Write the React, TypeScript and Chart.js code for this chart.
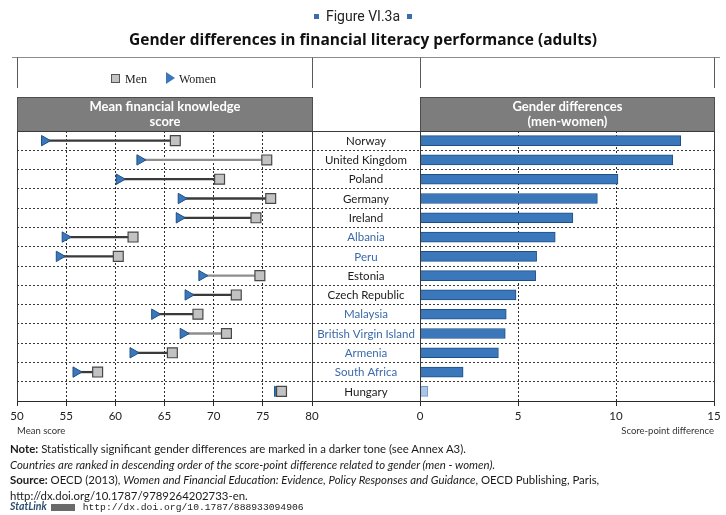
import React, { useEffect, useRef } from 'react';
import { Chart, registerables } from 'chart.js';

Chart.register(...registerables);

// ---------- data ----------
const countries = [
  'Norway', 'United Kingdom', 'Poland', 'Germany', 'Ireland', 'Albania', 'Peru',
  'Estonia', 'Czech Republic', 'Malaysia', 'British Virgin Island', 'Armenia',
  'South Africa', 'Hungary',
];
const partnerEconomy = [false, false, false, false, false, true, true, false, false, true, true, true, true, false];
const menScores = [66.1, 75.4, 70.6, 75.8, 74.3, 61.8, 60.3, 74.7, 72.3, 68.4, 71.3, 65.8, 58.2, 76.9];
const womenScores = [52.8, 62.5, 60.4, 66.7, 66.5, 54.9, 54.3, 68.8, 67.4, 64.0, 66.9, 61.8, 56.0, 76.5];
const genderGap = [13.3, 12.9, 10.1, 9.05, 7.8, 6.9, 5.95, 5.9, 4.9, 4.4, 4.35, 4.0, 2.2, 0.4];
const gapSignificant = [true, true, true, true, true, true, true, true, true, true, true, true, true, false];
const connectorDark = [true, false, true, true, true, true, true, false, true, true, false, true, true, false];
const scoreTicks = [50, 55, 60, 65, 70, 75, 80];
const gapTicks = [0, 5, 10, 15];

const FONT = 'Lato, "Open Sans", sans-serif';
const BLUE = '#3b78bb';
const BLUE_EDGE = '#1f4f85';
const LABEL_BLUE = '#3a6aa8';

const align = (p: number) => Math.round(p - 0.5) + 0.5;

const framePlugin = {
  id: 'panelFrame',
  afterDraw(chart: any) {
    const { ctx, chartArea, scales } = chart;
    const xL = scales.xL;
    const xR = scales.xR;
    const y = scales.y;
    const edges = [xL.left, xL.right, xR.left, xR.right].map(align);
    const top = align(chartArea.top);
    const bottom = align(chartArea.bottom);
    const line = (x1: number, y1: number, x2: number, y2: number) => {
      ctx.beginPath();
      ctx.moveTo(x1, y1);
      ctx.lineTo(x2, y2);
      ctx.stroke();
    };
    ctx.save();
    ctx.lineWidth = 1;
    // upper frame (legend strip)
    ctx.strokeStyle = '#8c8c8c';
    line(12, 57.5, 720, 57.5);
    ctx.strokeStyle = '#5a5a5a';
    edges.forEach((x: number) => line(x, 57.5, x, 88));

    // header boxes
    const headerTop = 97.5;
    const headers = [
      { l: edges[0], r: edges[1], text: ['Mean financial knowledge', 'score'] },
      { l: edges[2], r: edges[3], text: ['Gender differences', '(men-women)'] },
    ];
    headers.forEach((h) => {
      ctx.fillStyle = '#7d7d7d';
      ctx.fillRect(h.l, headerTop, h.r - h.l, top - headerTop);
      ctx.strokeStyle = '#4d4d4d';
      ctx.strokeRect(h.l, headerTop, h.r - h.l, top - headerTop);
      ctx.fillStyle = '#ffffff';
      ctx.font = `bold 13px ${FONT}`;
      ctx.textAlign = 'center';
      ctx.textBaseline = 'middle';
      ctx.fillText(h.text[0], (h.l + h.r) / 2, 106.5);
      ctx.fillText(h.text[1], (h.l + h.r) / 2, 121.5);
    });

    // panel frame
    ctx.strokeStyle = '#3a3a3a';
    line(edges[0], top, edges[3], top);
    edges.forEach((x: number) => line(x, top, x, bottom));

    // category labels in the middle column
    ctx.font = `11.5px ${FONT}`;
    ctx.textAlign = 'center';
    ctx.textBaseline = 'middle';
    const cx = (xL.right + xR.left) / 2;
    countries.forEach((c, i) => {
      ctx.fillStyle = partnerEconomy[i] ? LABEL_BLUE : '#1a1a1a';
      ctx.fillText(c, cx, y.getPixelForValue(i) + 0.5);
    });
    ctx.restore();
  },
};

const fixHeight = (s: any) => {
  s.height = 40;
};

const xGrid = (edgeValues: number[]) => ({
  color: (c: any) => (c.tick && edgeValues.includes(c.tick.value) ? 'rgba(0,0,0,0)' : '#2a2a2a'),
  lineWidth: 1,
  drawTicks: true,
  tickLength: 5,
  tickColor: '#2a2a2a',
  tickBorderDash: [],
});

export default function App() {
  const ref = useRef<HTMLCanvasElement>(null);

  useEffect(() => {
    if (!ref.current) return;
    const chart = new Chart(ref.current, {
      type: 'bar',
      data: {
        labels: countries,
        datasets: [
          {
            type: 'line',
            label: 'Men',
            data: menScores,
            indexAxis: 'y',
            xAxisID: 'xL',
            yAxisID: 'y',
            showLine: false,
            pointStyle: 'rect',
            pointRadius: 7,
            pointBackgroundColor: '#c2c2c2',
            pointBorderColor: '#474747',
            pointBorderWidth: 1.2,
          } as any,
          {
            type: 'line',
            label: 'Women',
            data: womenScores,
            indexAxis: 'y',
            xAxisID: 'xL',
            yAxisID: 'y',
            showLine: false,
            pointStyle: 'triangle',
            pointRotation: 90,
            pointRadius: 6,
            pointBackgroundColor: BLUE,
            pointBorderColor: BLUE_EDGE,
            pointBorderWidth: 1,
          } as any,
          {
            type: 'bar',
            label: 'Connector',
            data: womenScores.map((w, i) => [w, menScores[i]]),
            indexAxis: 'y',
            xAxisID: 'xL',
            yAxisID: 'y',
            grouped: false,
            barThickness: 1.6,
            borderWidth: 0,
            backgroundColor: connectorDark.map((d) => (d ? '#3a3a3a' : '#8e8e8e')),
          } as any,
          {
            type: 'bar',
            label: 'Gender difference',
            data: genderGap,
            indexAxis: 'y',
            xAxisID: 'xR',
            yAxisID: 'y',
            grouped: false,
            barThickness: 10,
            borderWidth: 1,
            borderSkipped: false,
            backgroundColor: gapSignificant.map((s) => (s ? BLUE : '#a9c6e6')),
            borderColor: gapSignificant.map((s) => (s ? BLUE_EDGE : '#6f97c4')),
          } as any,
        ],
      },
      options: {
        animation: false,
        responsive: false,
        devicePixelRatio: 1,
        indexAxis: 'y',
        events: [],
        layout: { padding: { left: 17, right: 12, top: 131, bottom: 74 } },
        plugins: { legend: { display: false }, tooltip: { enabled: false }, title: { display: false } },
        scales: {
          y: {
            type: 'category',
            labels: countries,
            offset: true,
            grid: {
              offset: true,
              drawTicks: false,
              color: (c: any) => (c.index === 0 || c.index === countries.length ? 'rgba(0,0,0,0)' : '#3a3a3a'),
              lineWidth: 1,
            },
            border: { display: false, dash: [2, 2] },
            ticks: { display: false },
            afterFit: (s: any) => {
              s.width = 0;
            },
          },
          xL: {
            type: 'linear',
            position: 'bottom',
            stack: 'bottomAxes',
            stackWeight: 295,
            min: scoreTicks[0],
            max: scoreTicks[scoreTicks.length - 1],
            afterBuildTicks: (s: any) => {
              s.ticks = scoreTicks.map((v) => ({ value: v }));
            },
            ticks: { font: { family: FONT, size: 11.5 }, color: '#222', padding: 3, maxRotation: 0 },
            grid: xGrid([50, 80]),
            border: { display: true, color: '#2a2a2a', width: 1, dash: [2, 2] },
            title: {
              display: true,
              text: 'Mean score',
              align: 'start',
              color: '#333',
              font: { family: FONT, size: 9.5 },
              padding: { top: 0, bottom: 4 },
            },
            afterFit: fixHeight,
          },
          xM: {
            type: 'linear',
            position: 'bottom',
            stack: 'bottomAxes',
            stackWeight: 108,
            min: 0,
            max: 1,
            ticks: { display: false },
            grid: { display: false, drawTicks: false },
            border: { display: true, color: '#2a2a2a', width: 1 },
            afterFit: fixHeight,
          },
          xR: {
            type: 'linear',
            position: 'bottom',
            stack: 'bottomAxes',
            stackWeight: 294,
            min: gapTicks[0],
            max: gapTicks[gapTicks.length - 1],
            afterBuildTicks: (s: any) => {
              s.ticks = gapTicks.map((v) => ({ value: v }));
            },
            ticks: { font: { family: FONT, size: 11.5 }, color: '#222', padding: 3, maxRotation: 0 },
            grid: xGrid([0, 15]),
            border: { display: true, color: '#2a2a2a', width: 1, dash: [2, 2] },
            title: {
              display: true,
              text: 'Score-point difference',
              align: 'end',
              color: '#333',
              font: { family: FONT, size: 9.5 },
              padding: { top: 0, bottom: 4 },
            },
            afterFit: fixHeight,
          },
        },
      } as any,
      plugins: [framePlugin],
    });
    return () => chart.destroy();
  }, []);

  const sq = (
    <span
      style={{ display: 'inline-block', width: 5, height: 5, background: '#3a6db0', verticalAlign: 'middle', margin: '0 7px 2px' }}
    />
  );

  return (
    <div
      style={{
        position: 'absolute',
        left: 0,
        top: 0,
        width: 726,
        height: 515,
        overflow: 'hidden',
        background: '#ffffff',
        fontFamily: FONT,
        color: '#1a1a1a',
      }}
    >
      <canvas ref={ref} width={726} height={515} style={{ position: 'absolute', left: 0, top: 0, width: 726, height: 515 }} />

      <div style={{ position: 'absolute', top: 6, left: 0, width: 726, textAlign: 'center', fontSize: 14, lineHeight: '20px', fontFamily: 'Roboto, sans-serif', color: '#222' }}>
        {sq}Figure VI.3a{sq}
      </div>
      <div style={{ position: 'absolute', top: 29, left: 0, width: 726, textAlign: 'center', fontSize: 15.5, lineHeight: '20px', fontWeight: 700, fontFamily: '"Open Sans", sans-serif', color: '#111' }}>
        Gender differences in financial literacy performance (adults)
      </div>

      {/* legend */}
      <div style={{ position: 'absolute', left: 111, top: 74, width: 9, height: 9, background: '#c2c2c2', border: '1px solid #555', boxSizing: 'border-box' }} />
      <div style={{ position: 'absolute', left: 125, top: 71, fontSize: 12, lineHeight: '16px', fontFamily: '"Liberation Serif", serif', color: '#222' }}>Men</div>
      <div
        style={{
          position: 'absolute',
          left: 166,
          top: 72,
          width: 0,
          height: 0,
          borderTop: '6px solid transparent',
          borderBottom: '6px solid transparent',
          borderLeft: `9px solid ${BLUE}`,
        }}
      />
      <div style={{ position: 'absolute', left: 179, top: 71, fontSize: 12, lineHeight: '16px', fontFamily: '"Liberation Serif", serif', color: '#222' }}>Women</div>

      {/* notes */}
      <div style={{ position: 'absolute', left: 10, top: 441, width: 710, fontSize: 11.4, lineHeight: '15.7px', color: '#1a1a1a' }}>
        <div>
          <b>Note:</b> Statistically significant gender differences are marked in a darker tone (see Annex A3).
        </div>
        <div>
          <i>Countries are ranked in descending order of the score-point difference related to gender (men - women).</i>
        </div>
        <div>
          <b>Source:</b> OECD (2013), <i>Women and Financial Education: Evidence, Policy Responses and Guidance</i>, OECD Publishing, Paris,
        </div>
        <div>http://dx.doi.org/10.1787/9789264202733-en.</div>
      </div>
      <div style={{ position: 'absolute', left: 10, top: 500, fontSize: 10.5, lineHeight: '13px', whiteSpace: 'nowrap' }}>
        <span style={{ fontWeight: 700, fontStyle: 'italic', color: '#2f4f6f' }}>StatLink</span>
        <span style={{ display: 'inline-block', width: 24, height: 7, background: '#6a6a6a', margin: '0 4px 0 4px', verticalAlign: 'middle' }} />
        <span style={{ fontFamily: '"Liberation Mono", monospace', fontSize: 9.7, color: '#222', marginLeft: 4 }}>
          http://dx.doi.org/10.1787/888933094906
        </span>
      </div>
    </div>
  );
}
